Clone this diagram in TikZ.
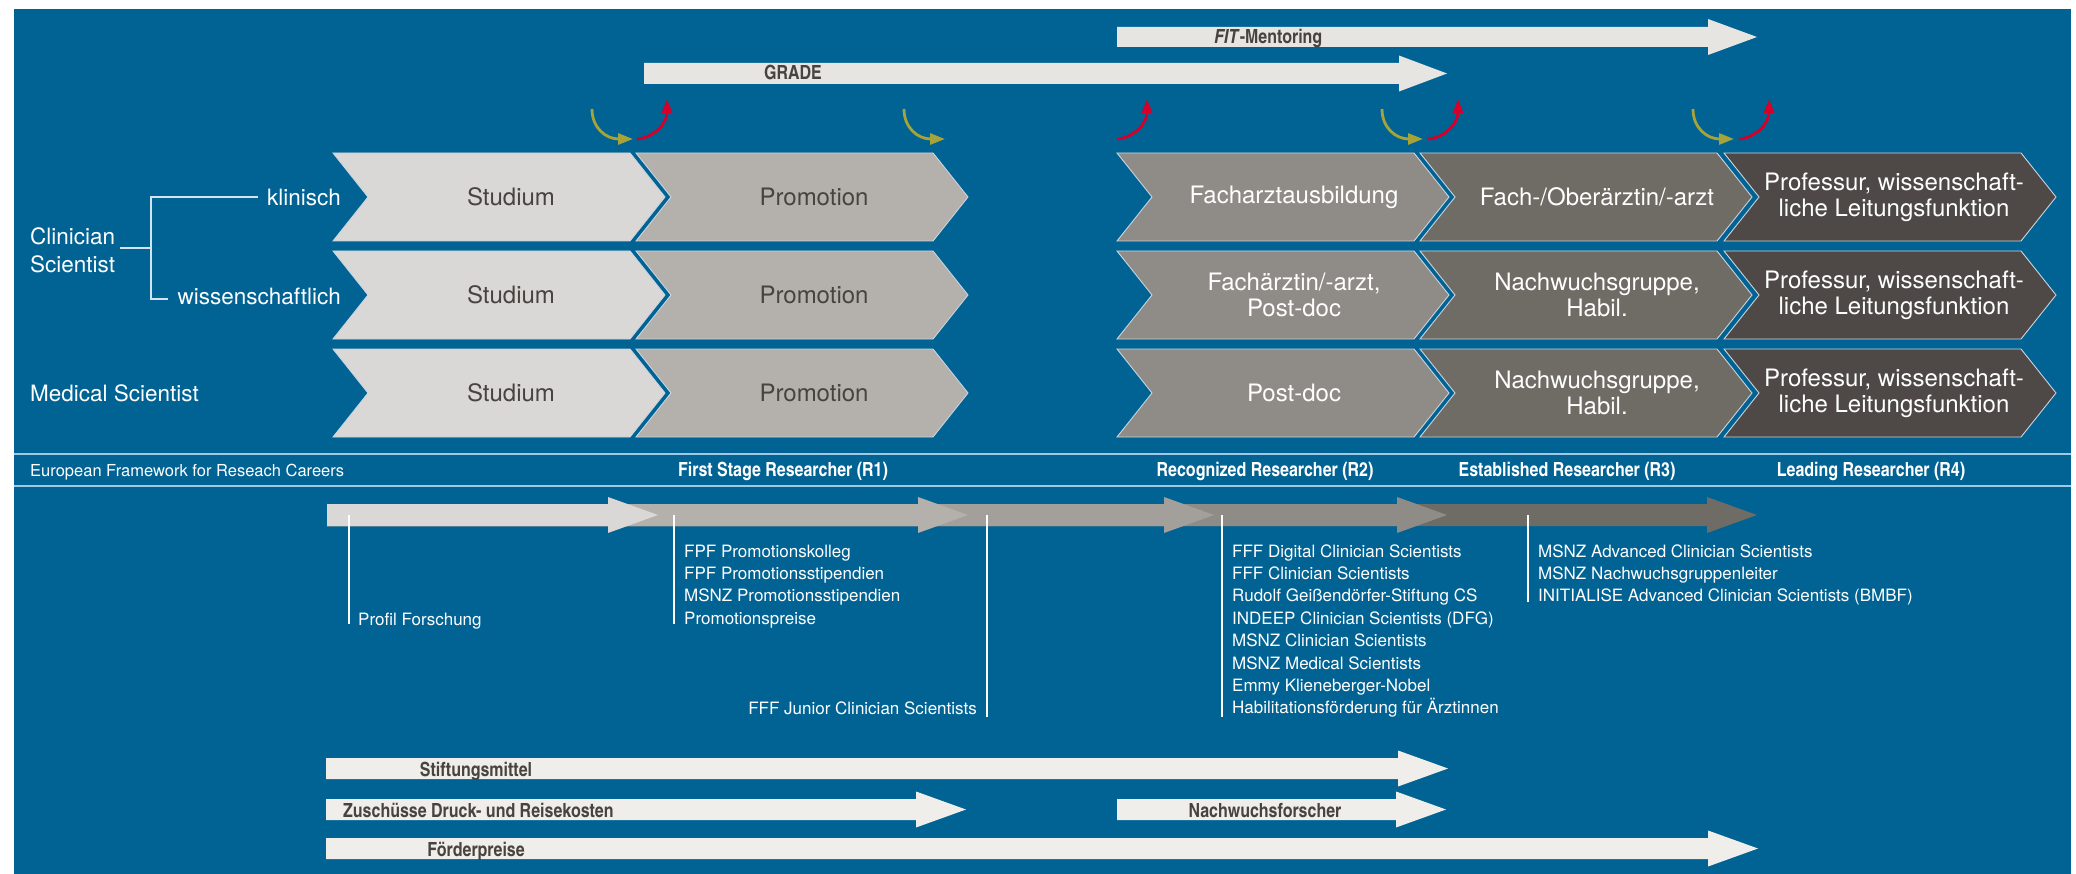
\documentclass[tikz,border=0pt]{standalone}
\usepackage{fontspec}
\setmainfont{TeX Gyre Heros}
\newfontfamily\cnfont{texgyreheroscn}[Extension=.otf,UprightFont=*-regular,BoldFont=*-bold,ItalicFont=*-italic,BoldItalicFont=*-bolditalic]
\usetikzlibrary{arrows.meta}
\definecolor{bg}{RGB}{0,99,148}
\definecolor{sepc}{RGB}{160,200,226}
\definecolor{chevedge}{RGB}{200,212,222}
\definecolor{c1}{RGB}{217,216,214}
\definecolor{c2}{RGB}{180,176,172}
\definecolor{c3}{RGB}{163,159,154}
\definecolor{c4}{RGB}{143,140,135}
\definecolor{c5}{RGB}{111,107,101}
\definecolor{c6}{RGB}{78,73,70}
\definecolor{barc}{RGB}{230,229,225}
\definecolor{barlc}{RGB}{239,238,235}
\definecolor{txtd}{RGB}{72,67,63}
\definecolor{olivec}{RGB}{166,164,56}
\definecolor{redc}{RGB}{213,0,42}
\definecolor{brk}{RGB}{210,228,240}
\newcommand\fbig{\fontsize{24}{26}\selectfont}
\newcommand\flab{\fontsize{22.5}{28}\selectfont}
\newcommand\fsm{\fontsize{17}{22.4}\selectfont}
\newcommand\feu{\fontsize{16.5}{20}\selectfont}
\newcommand\fbold{\cnfont\bfseries\fontsize{19.5}{22}\selectfont}
\newcommand\myarrow[7]{\fill[#7] (#1,{#3-#4}) -- ({#2-#6},{#3-#4}) -- ({#2-#6},{#3-#5}) -- (#2,#3) -- ({#2-#6},{#3+#5}) -- ({#2-#6},{#3+#4}) -- (#1,{#3+#4}) -- cycle;}
\newcommand\mychev[7]{\fill[#4, draw=chevedge, line width=0.9pt] (#2,#3) -- ++(297,0) -- ++(35,44) -- ++(-35,44) -- ++(-297,0) -- ++(35,-44) -- cycle;
 \node[chevtext, text=#5] (#1) at ({#2+#6},{#3+44}) {#7};}
\tikzset{
 chevtext/.style={font=\fbig, align=center, inner sep=0pt},
 lbl/.style={font=\flab, text=white, inner sep=0pt},
 smtxt/.style={font=\fsm, text=white, inner sep=0pt},
 hdr/.style={font=\fbold, text=white, inner sep=0pt, anchor=base},
 bartxt/.style={font=\fbold, text=txtd, inner sep=0pt},
 olivearr/.style={olivec, line width=2.8pt, -{Triangle[length=15pt,width=11pt]}},
 redarr/.style={redc, line width=2.8pt, -{Triangle[length=14pt,width=10pt]}},
 vline/.style={white, line width=1.2pt},
 brkline/.style={brk, line width=1.6pt},
 sepline/.style={sepc, line width=2pt}
}
\begin{document}
\begin{tikzpicture}[x=1pt,y=-1pt]
\useasboundingbox (0,0) rectangle (2076,874);
\fill[white] (0,0) rectangle (2076,874);
\fill[bg] (14,9) rectangle (2071,874);
% top bars
\myarrow{1117}{1757}{37}{10}{18}{49}{barc}
\myarrow{644}{1447}{73.5}{10.5}{18}{48}{barc}
\node[bartxt, anchor=base west] (fit) at (1214,44) {\textit{FIT}-Mentoring};
\node[bartxt, anchor=base] (grade) at (793,80) {GRADE};
% curved arrows
\foreach \ox in {592,904,1382,1693}
  \draw[olivearr] (\ox,109) .. controls (\ox,128) and ({\ox+14},139) .. ({\ox+41},139);
\foreach \rx in {637,1117,1428,1739}
  \draw[redarr] (\rx,139) .. controls ({\rx+16},138) and ({\rx+30},124) .. ({\rx+30},99);
% chevrons
\foreach \r/\t in {1/153,2/251,3/349}{
  \mychev{stud\r}{333}{\t}{c1}{txtd}{178}{Studium}
  \mychev{prom\r}{636}{\t}{c2}{txtd}{178}{Promotion}
}
\mychev{fa1}{1117}{153}{c4}{white}{177}{Facharztausbildung}
\mychev{fa2}{1117}{251}{c4}{white}{177}{Fachärztin/-arzt,\\Post-doc}
\mychev{fa3}{1117}{349}{c4}{white}{177}{Post-doc}
\mychev{ob1}{1420}{153}{c5}{white}{177}{Fach-/Oberärztin/-arzt}
\mychev{ob2}{1420}{251}{c5}{white}{177}{Nachwuchsgruppe,\\Habil.}
\mychev{ob3}{1420}{349}{c5}{white}{177}{Nachwuchsgruppe,\\Habil.}
\mychev{pr1}{1724}{153}{c6}{white}{170}{Professur, wissenschaft-\\liche Leitungsfunktion}
\mychev{pr2}{1724}{251}{c6}{white}{170}{Professur, wissenschaft-\\liche Leitungsfunktion}
\mychev{pr3}{1724}{349}{c6}{white}{170}{Professur, wissenschaft-\\liche Leitungsfunktion}
% left labels
\node[lbl, align=left, anchor=west] (cs) at (30,250) {Clinician\\Scientist};
\node[lbl, anchor=east] (kl) at (341,197) {klinisch};
\node[lbl, anchor=east] (wi) at (341,296) {wissenschaftlich};
\node[lbl, anchor=west] (ms) at (30,393) {Medical Scientist};
\draw[brkline] (120,248) -- (151,248);
\draw[brkline] (258,197) -- (151,197) -- (151,299) -- (168,299);
% separators
\draw[sepline] (14,454) -- (2071,454);
\draw[sepline] (14,486) -- (2071,486);
\node[font=\feu, text=white, inner sep=0pt, anchor=base west] (eu) at (30,476) {European Framework for Reseach Careers};
\node[hdr] (r1) at (783,476) {First Stage Researcher (R1)};
\node[hdr] (r2) at (1265,476) {Recognized Researcher (R2)};
\node[hdr] (r3) at (1567,476) {Established Researcher (R3)};
\node[hdr] (r4) at (1871,476) {Leading Researcher (R4)};
% progress band
\myarrow{327}{1757}{515}{11}{18}{50}{c5}
\myarrow{327}{1447}{515}{11}{18}{50}{c4}
\myarrow{327}{1214}{515}{11}{18}{50}{c3}
\myarrow{327}{968}{515}{11}{18}{50}{c2}
\myarrow{327}{658}{515}{11}{18}{50}{c1}
% vertical lines
\draw[vline] (349,515) -- (349,624);
\draw[vline] (674,515) -- (674,624);
\draw[vline] (987,515) -- (987,717);
\draw[vline] (1222,515) -- (1222,717);
\draw[vline] (1528,515) -- (1528,602);
% lists
\node[smtxt, anchor=base west] (pf) at (358,625) {Profil Forschung};
\foreach \t [count=\i from 0] in {FPF Promotionskolleg, FPF Promotionsstipendien, MSNZ Promotionsstipendien, Promotionspreise}
  \node[smtxt, anchor=base west] (la\i) at (684,{557+22.4*\i}) {\t};
\node[smtxt, anchor=base east] (jc) at (977,714) {FFF Junior Clinician Scientists};
\foreach \t [count=\i from 0] in {FFF Digital Clinician Scientists, FFF Clinician Scientists, Rudolf Geißendörfer-Stiftung CS, INDEEP Clinician Scientists (DFG), MSNZ Clinician Scientists, MSNZ Medical Scientists, Emmy Klieneberger-Nobel, Habilitationsförderung für Ärztinnen}
  \node[smtxt, anchor=base west] (lb\i) at (1232,{557+22.4*\i}) {\t};
\foreach \t [count=\i from 0] in {MSNZ Advanced Clinician Scientists, MSNZ Nachwuchsgruppenleiter, INITIALISE Advanced Clinician Scientists (BMBF)}
  \node[smtxt, anchor=base west] (lc\i) at (1538,{557+22.4*\i}) {\t};
% bottom bars
\myarrow{326}{1448}{768.5}{10.5}{18}{50}{barlc}
\myarrow{326}{966}{809.5}{10.5}{18}{50}{barlc}
\myarrow{1117}{1446}{809.5}{10.5}{18}{50}{barlc}
\myarrow{326}{1758}{848.5}{10.5}{18}{50}{barlc}
\node[bartxt, anchor=base] (sm) at (476,776) {Stiftungsmittel};
\node[bartxt, anchor=base west] (zu) at (343,817) {Zuschüsse Druck- und Reisekosten};
\node[bartxt, anchor=base] (nf) at (1265,817) {Nachwuchsforscher};
\node[bartxt, anchor=base] (fp) at (476,856) {Förderpreise};
\end{tikzpicture}
\end{document}
